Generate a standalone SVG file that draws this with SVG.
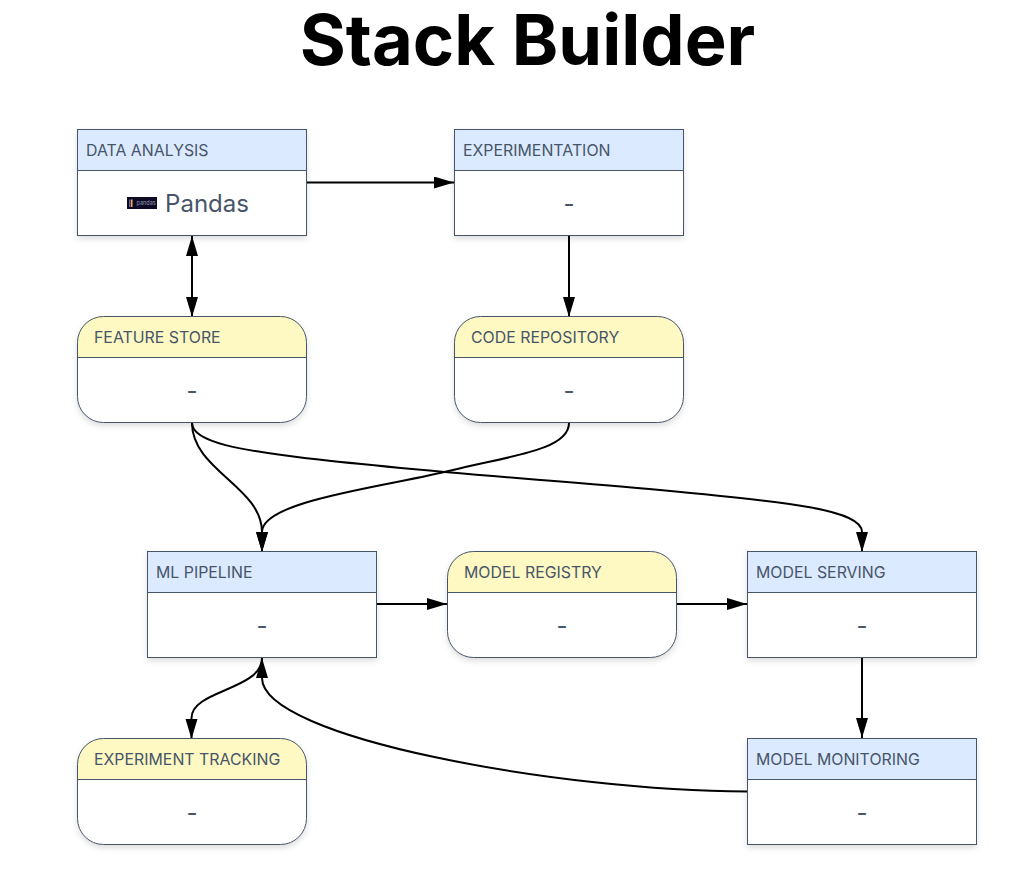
<svg xmlns="http://www.w3.org/2000/svg" width="1016" height="874" viewBox="0 0 1016 874">
<style>
text{font-family:Inter,"Liberation Sans",sans-serif}
.title{font-size:70.400px;font-weight:700;fill:#000;text-anchor:middle}
.h{font-size:15.880px;fill:#475569}
.v{font-size:24px;fill:#475569;text-anchor:middle}
.box{fill:#fff;filter:url(#sh)}
.o{fill:none;stroke:#475569;stroke-width:1}
.blue{fill:#dbeafe}
.yellow{fill:#fef9c3}
.div{stroke:#475569;stroke-width:1}
.c{fill:none;stroke:#000;stroke-width:2}
</style>
<defs>
<filter id="sh" x="-10%" y="-10%" width="120%" height="125%"><feDropShadow dx="0" dy="3" stdDeviation="3" flood-color="#000" flood-opacity="0.15"/></filter>
<marker id="a" markerUnits="userSpaceOnUse" markerWidth="22" markerHeight="14" refX="20" refY="6" orient="auto-start-reverse"><path d="M0 0L20 6L0 12Z" fill="#000"/></marker>
</defs>
<text class="title" x="527.500" y="65">Stack Builder</text>
<g id="connectors">
<path class="c" marker-end="url(#a)" d="M307 182.500H454"/>
<path class="c" marker-start="url(#a)" marker-end="url(#a)" d="M192 236V317"/>
<path class="c" marker-end="url(#a)" d="M569 236V317"/>
<path class="c" marker-end="url(#a)" d="M192 423C192 470 262 487 262 532V552"/>
<path class="c" marker-end="url(#a)" d="M569 423C569 450 510 456 453 470C390 486 262 500 262 532V552"/>
<path class="c" marker-end="url(#a)" d="M192 423C192 445 260 452 297 457C420 472 540 479 660 490C790 502 862 510 862 532V552"/>
<path class="c" marker-end="url(#a)" d="M377 604H447"/>
<path class="c" marker-end="url(#a)" d="M677 604H747"/>
<path class="c" marker-end="url(#a)" d="M862 658V738"/>
<path class="c" marker-end="url(#a)" d="M262 658C262 690 191.500 690 191.500 718V739"/>
<path class="c" marker-end="url(#a)" d="M747 791.500C560 791 262 738 262 678V658"/>
</g>
<g id="data-analysis" transform="translate(77.500 129.500)">
<rect class="box" width="229" height="106"/><rect class="blue" width="229" height="41"/>
<path class="div" d="M0 41H229"/><rect class="o" width="229" height="106"/>
<text class="h" x="8.500" y="26.500">DATA ANALYSIS</text>
<rect x="49.500" y="67.500" width="30" height="12" fill="#0c0a24"/><rect x="51.500" y="70" width="1.500" height="7.500" fill="#6a5fb0"/><rect x="53.500" y="70" width="1.500" height="7.500" fill="#e8b830"/>
<text x="59" y="75" font-size="5.500" fill="#9a98b8">pandas</text>
<text class="v" x="129.500" y="82.500">Pandas</text>
</g>
<g id="experimentation" transform="translate(454.500 129.500)">
<rect class="box" width="229" height="106"/><rect class="blue" width="229" height="41"/>
<path class="div" d="M0 41H229"/><rect class="o" width="229" height="106"/>
<text class="h" x="8.500" y="26.500">EXPERIMENTATION</text>
<text class="v" x="114.500" y="82.500">-</text>
</g>
<g id="feature-store" transform="translate(77.500 316.500)">
<rect class="box" width="229" height="106" rx="26"/><path class="yellow" d="M0 41V26A26 26 0 0 1 26 0H203A26 26 0 0 1 229 26V41Z"/>
<path class="div" d="M0 41H229"/><rect class="o" width="229" height="106" rx="26"/>
<text class="h" x="16.500" y="26.500">FEATURE STORE</text>
<text class="v" x="114.500" y="82.500">-</text>
</g>
<g id="code-repository" transform="translate(454.500 316.500)">
<rect class="box" width="229" height="106" rx="26"/><path class="yellow" d="M0 41V26A26 26 0 0 1 26 0H203A26 26 0 0 1 229 26V41Z"/>
<path class="div" d="M0 41H229"/><rect class="o" width="229" height="106" rx="26"/>
<text class="h" x="16.500" y="26.500">CODE REPOSITORY</text>
<text class="v" x="114.500" y="82.500">-</text>
</g>
<g id="ml-pipeline" transform="translate(147.500 551.500)">
<rect class="box" width="229" height="106"/><rect class="blue" width="229" height="41"/>
<path class="div" d="M0 41H229"/><rect class="o" width="229" height="106"/>
<text class="h" x="8.500" y="26.500">ML PIPELINE</text>
<text class="v" x="114.500" y="82.500">-</text>
</g>
<g id="model-registry" transform="translate(447.500 551.500)">
<rect class="box" width="229" height="106" rx="26"/><path class="yellow" d="M0 41V26A26 26 0 0 1 26 0H203A26 26 0 0 1 229 26V41Z"/>
<path class="div" d="M0 41H229"/><rect class="o" width="229" height="106" rx="26"/>
<text class="h" x="16.500" y="26.500">MODEL REGISTRY</text>
<text class="v" x="114.500" y="82.500">-</text>
</g>
<g id="model-serving" transform="translate(747.500 551.500)">
<rect class="box" width="229" height="106"/><rect class="blue" width="229" height="41"/>
<path class="div" d="M0 41H229"/><rect class="o" width="229" height="106"/>
<text class="h" x="8.500" y="26.500">MODEL SERVING</text>
<text class="v" x="114.500" y="82.500">-</text>
</g>
<g id="experiment-tracking" transform="translate(77.500 738.500)">
<rect class="box" width="229" height="106" rx="26"/><path class="yellow" d="M0 41V26A26 26 0 0 1 26 0H203A26 26 0 0 1 229 26V41Z"/>
<path class="div" d="M0 41H229"/><rect class="o" width="229" height="106" rx="26"/>
<text class="h" x="16.500" y="26.500">EXPERIMENT TRACKING</text>
<text class="v" x="114.500" y="82.500">-</text>
</g>
<g id="model-monitoring" transform="translate(747.500 738.500)">
<rect class="box" width="229" height="106"/><rect class="blue" width="229" height="41"/>
<path class="div" d="M0 41H229"/><rect class="o" width="229" height="106"/>
<text class="h" x="8.500" y="26.500">MODEL MONITORING</text>
<text class="v" x="114.500" y="82.500">-</text>
</g>
</svg>
